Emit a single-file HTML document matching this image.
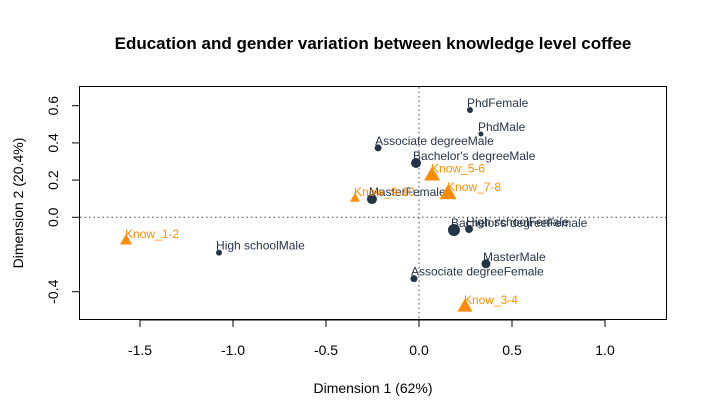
<!DOCTYPE html>
<html><head><meta charset="utf-8"><style>
body{margin:0;background:#fff;}
svg{display:block;font-family:"Liberation Sans",Arial,sans-serif;}
</style></head><body>
<svg id="chart" width="707" height="418">
<text x="373" y="49" text-anchor="middle" font-size="17" font-weight="bold">Education and gender variation between knowledge level coffee</text>
<rect x="79.5" y="86.5" width="587" height="233" fill="none" stroke="#000"/>
<g id="xaxis"></g>
<g id="yaxis"></g>
<g id="refs"></g>
<g id="marks"></g>
<text x="373" y="393" text-anchor="middle" font-size="14">Dimension 1 (62%)</text>
<text transform="translate(23,203) rotate(-90)" text-anchor="middle" font-size="14">Dimension 2 (20.4%)</text>
</svg>
<script>
const xTicks=[-1.5,-1.0,-0.5,0.0,0.5,1.0];
const xTickLabels=["-1.5","-1.0","-0.5","0.0","0.5","1.0"];
const yTicks=[-0.4,0.0,0.2,0.4,0.6];
const yTickLabels=["-0.4","0.0","0.2","0.4","0.6"];
const rowNames=["PhdFemale","PhdMale","Associate degreeMale","Bachelor's degreeMale","MasterFemale","Bachelor's degreeFemale","High schoolFemale","MasterMale","Associate degreeFemale","High schoolMale"];
const rowX=[0.274,0.333,-0.22,-0.016,-0.253,0.188,0.269,0.36,-0.027,-1.075];
const rowY=[0.577,0.448,0.373,0.292,0.098,-0.068,-0.063,-0.25,-0.33,-0.19];
const rowSize=[3,2.5,3.5,5,5,6,4,4.5,3.5,3];
const colNames=["Know_1-2","Know_3-4","Know_5-6","Know_7-8","Know_9-10"];
const colX=[-1.575,0.247,0.07,0.156,-0.344];
const colY=[-0.122,-0.477,0.23,0.131,0.104];
const colSize=[6,7.5,8,8.5,5];

const NS="http://www.w3.org/2000/svg";
const sx=v=>419+v*186;
const sy=v=>217.3-v*186;
function mk(parent,tag,attrs){const e=document.createElementNS(NS,tag);for(const k in attrs)e.setAttribute(k,attrs[k]);document.getElementById(parent).appendChild(e);return e;}

xTicks.forEach((t,i)=>{
  const l=mk('xaxis','line',{x1:sx(t),x2:sx(t),y1:320,y2:327,stroke:'#000'});
  
  
  const tx=mk('xaxis','text',{x:sx(t),y:355,'text-anchor':'middle','font-size':14});
  tx.textContent=xTickLabels[i];
  
  
});
mk('xaxis','line',{x1:sx(-1.5),x2:sx(1.0),y1:320,y2:320,stroke:'#000'});
yTicks.forEach((t,i)=>{
  const l=mk('yaxis','line',{x1:72,x2:79,y1:sy(t),y2:sy(t),stroke:'#000'});
  
  
  const tx=mk('yaxis','text',{transform:`translate(58,${sy(t)}) rotate(-90)`,'text-anchor':'middle','font-size':14});
  tx.textContent=yTickLabels[i];
  
  
});
const h=mk('refs','line',{x1:80,x2:666,y1:sy(0),y2:sy(0),stroke:'#444','stroke-dasharray':'1.5,3'});


const v=mk('refs','line',{x1:sx(0),x2:sx(0),y1:87,y2:319,stroke:'#444','stroke-dasharray':'1.5,3'});



rowNames.forEach((n,i)=>{
  const px=sx(rowX[i]),py=sy(rowY[i]);
  const c=mk('marks','circle',{cx:px,cy:py,r:rowSize[i],fill:'#263447'});
  
  
  const t=mk('marks','text',{x:px-3,y:py-3,'font-size':12,fill:'#263447'});
  t.textContent=n;
  
  
});
colNames.forEach((n,i)=>{
  const px=sx(colX[i]),py=sy(colY[i]),s=colSize[i];
  const p=mk('marks','polygon',{points:`${px},${py-s} ${px-s},${py+s*0.75} ${px+s},${py+s*0.75}`,fill:'#FF8C00'});
  
  
  const t=mk('marks','text',{x:px-1,y:py-2,'font-size':12,fill:'#FF8C00'});
  t.textContent=n;
  
  
});
</script>
</body></html>
